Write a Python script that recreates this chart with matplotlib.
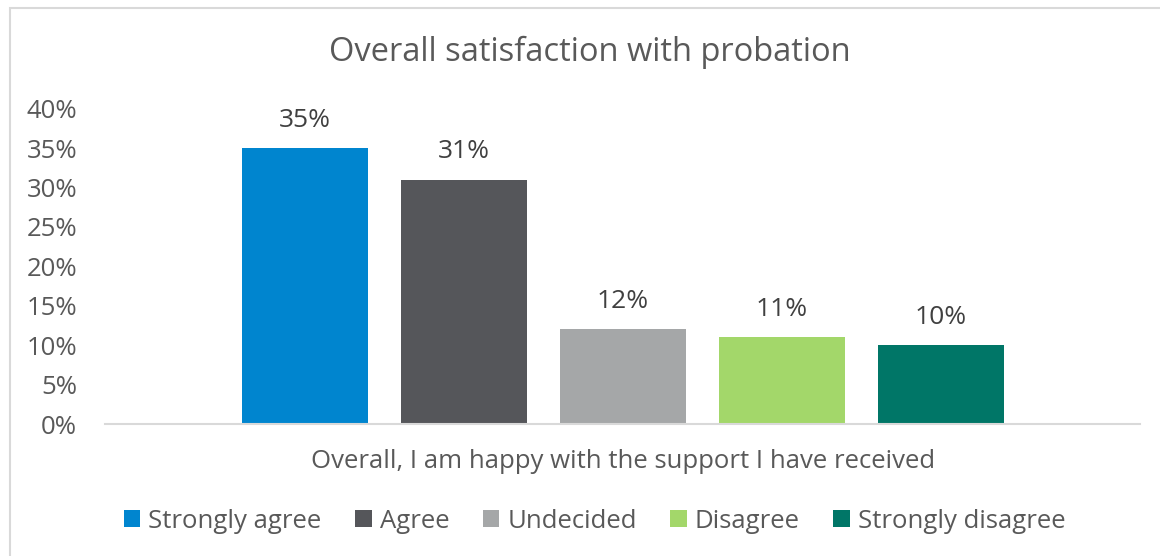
import matplotlib.pyplot as plt
from matplotlib.patches import Rectangle

categories = ["Strongly agree", "Agree", "Undecided", "Disagree", "Strongly disagree"]
values = [35, 31, 12, 11, 10]
colors = ["#0085CF", "#55565A", "#A5A7A8", "#A3D76A", "#007667"]
yticks = [0, 5, 10, 15, 20, 25, 30, 35, 40]
title = "Overall satisfaction with probation"
xlabel = "Overall, I am happy with the support I have received"

plt.rcParams['font.family'] = ['Open Sans', 'DejaVu Sans']
text_color = "#595959"

fig = plt.figure(figsize=(11.6, 5.56), dpi=100)
ax = fig.add_axes([105 / 1160, 1 - 424 / 556, 1035 / 1160, (424 - 108.6) / 556])

# outer chart border (only top and left are visible in the reference)
fig.patches.append(Rectangle((10 / 1160, -0.05), 1.2, 1 - 8.5 / 556 + 0.05,
                             transform=fig.transFigure, fill=False,
                             edgecolor="#D9D9D9", linewidth=1.5))

pos = [i - 2 for i in range(len(values))]
bars = ax.bar(pos, values, width=126 / 159, color=colors, label=categories, zorder=2)
for b, v in zip(bars, values):
    ax.annotate(f"{v}%", (b.get_x() + b.get_width() / 2, v), xytext=(0, 11),
                textcoords="offset points", ha="center", va="bottom",
                fontsize=19, color="#404040")

ax.set_xlim(-3.258, 3.252)
ax.set_ylim(0, 40)
ax.set_yticks(yticks)
ax.set_yticklabels([f"{t}%" for t in yticks])
ax.tick_params(axis="y", length=0, labelsize=18.5, labelcolor=text_color, pad=20)
ax.set_xticks([])
for s in ["top", "right", "left"]:
    ax.spines[s].set_visible(False)
ax.spines["bottom"].set_color("#D9D9D9")
ax.spines["bottom"].set_linewidth(1.5)

fig.text(590 / 1160, 1 - 52 / 556, title, ha="center", va="center",
         fontsize=23.5, color=text_color)
fig.text(623.5 / 1160, 1 - 461 / 556, xlabel, ha="center", va="center",
         fontsize=18.5, color=text_color)

fig.legend(handles=bars, labels=categories, loc="center", ncol=5,
           bbox_to_anchor=(594.5 / 1160, 1 - 521 / 556), frameon=False,
           fontsize=18.5, labelcolor=text_color, handlelength=0.66,
           handleheight=0.66, handletextpad=0.3, columnspacing=1.3)

fig.savefig("out.png", dpi=100)
